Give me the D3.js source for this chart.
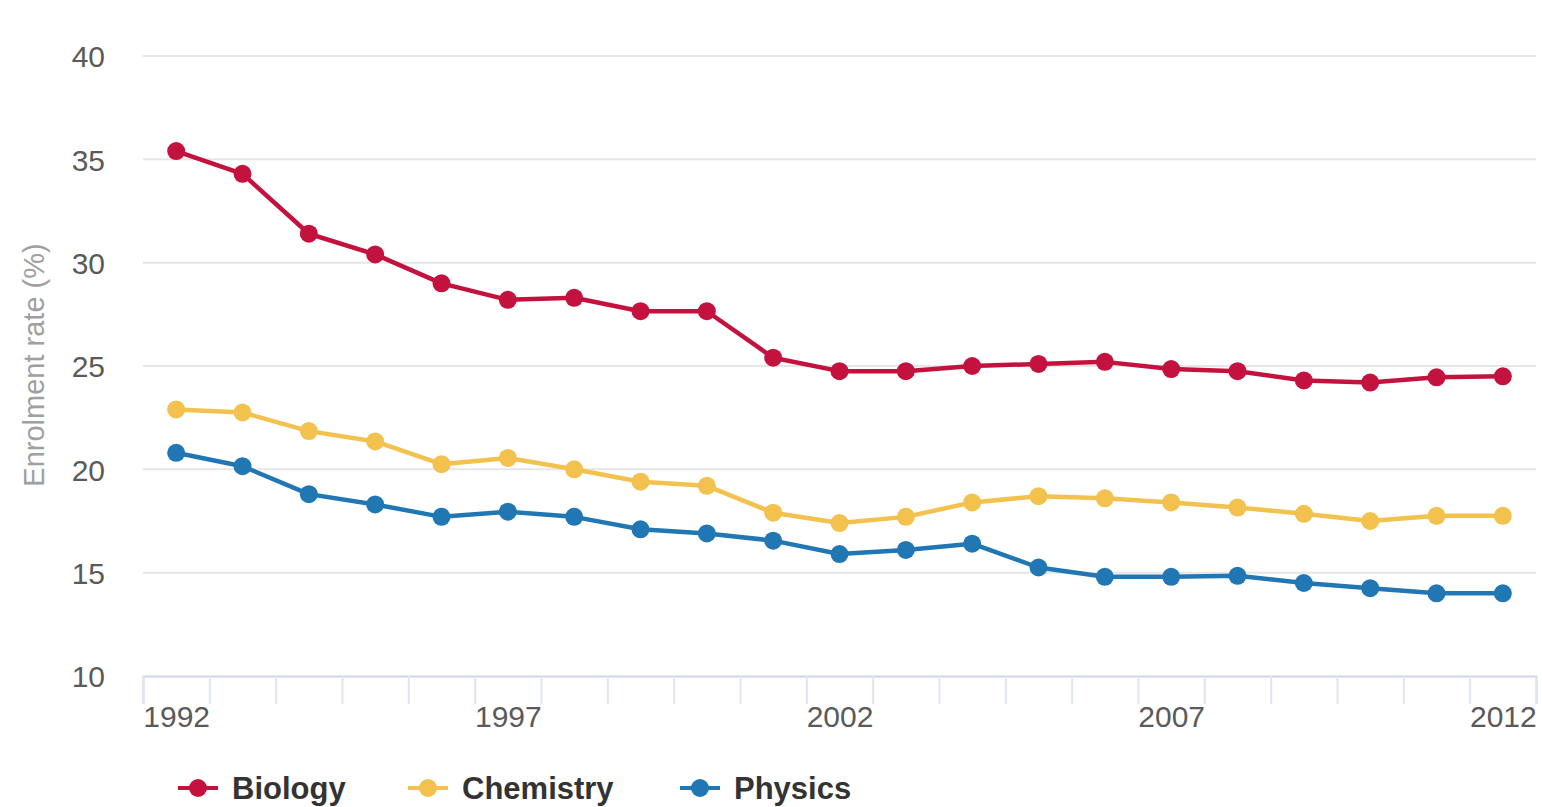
<html>
<head>
<script src="https://d3js.org/d3.v7.min.js"></script>
<title>Enrolment rate</title>
<style>
  body { margin: 0; background: #fff; }
  text { font-family: "Liberation Sans", Arial, sans-serif; }
</style>
</head>
<body>
<div class="viz"></div>
<script type="text/javascript">
var years = d3.range(1992, 2013);
var yearLabels = [1992, 1997, 2002, 2007, 2012];
var yTicks = [10, 15, 20, 25, 30, 35, 40];
var seriesNames = ["Biology", "Chemistry", "Physics"];
var seriesColors = ["#c4123f", "#f2c14e", "#2077b4"];

var biology = [35.4, 34.3, 31.4, 30.4, 29.0, 28.2, 28.3, 27.65, 27.65, 25.4, 24.75,
               24.75, 25.0, 25.1, 25.2, 24.85, 24.75, 24.3, 24.2, 24.45, 24.5];
var chemistry = [22.9, 22.75, 21.85, 21.35, 20.25, 20.55, 20.0, 19.4, 19.2, 17.9, 17.4,
                 17.7, 18.4, 18.7, 18.6, 18.4, 18.15, 17.85, 17.5, 17.75, 17.75];
var physics = [20.8, 20.15, 18.8, 18.3, 17.7, 17.95, 17.7, 17.1, 16.9, 16.55, 15.9,
               16.1, 16.4, 15.25, 14.8, 14.8, 14.85, 14.5, 14.25, 14.0, 14.0];

var seriesValues = [biology, chemistry, physics];

var vizWidth = 1542;
var vizHeight = 807;

var xScale = d3.scaleLinear()
        .domain([1991.5, 2012.5])
        .range([143, 1536]);

var yScale = d3.scaleLinear()
        .domain([10, 40])
        .range([676, 56]);

var svg = d3.select("div")
            .append("svg")
            .attr("width", vizWidth)
            .attr("height", vizHeight);

// horizontal grid lines
svg.append("g")
    .selectAll("line")
    .data(yTicks.slice(1))
    .enter()
    .append("line")
    .attr("x1", 143)
    .attr("x2", 1536)
    .attr("y1", function(d){ return yScale(d); })
    .attr("y2", function(d){ return yScale(d); })
    .attr("stroke", "#e6e6e6")
    .attr("stroke-width", 2);

// y axis labels
var yAxis = d3.axisLeft(yScale)
        .tickValues(yTicks)
        .tickSize(0)
        .tickPadding(38);
var yg = svg.append("g")
        .attr("transform", "translate(143,0)")
        .call(yAxis);
yg.select(".domain").remove();
yg.selectAll("text")
    .attr("font-size", 30)
    .attr("fill", "#5a5a5a")
    .attr("font-family", "Liberation Sans, Arial, sans-serif")
    .attr("dy", "0.36em");

// x axis line and tick marks between categories
var tickMarks = d3.axisBottom(xScale)
        .tickValues(d3.range(1991.5, 2013, 1))
        .tickSize(28)
        .tickFormat("");
var xg = svg.append("g")
        .attr("transform", "translate(0," + yScale(10) + ")")
        .call(tickMarks);
xg.select(".domain").attr("stroke", "#ccd6eb").attr("stroke-width", 2);
xg.selectAll(".tick line").attr("stroke", "#e0e6f0").attr("stroke-width", 2);

// x axis labels
var xLabels = d3.axisBottom(xScale)
        .tickValues(yearLabels)
        .tickSize(0)
        .tickPadding(30)
        .tickFormat(d3.format("d"));
var xl = svg.append("g")
        .attr("transform", "translate(0," + yScale(10) + ")")
        .call(xLabels);
xl.select(".domain").remove();
xl.selectAll("text")
    .attr("font-size", 30)
    .attr("fill", "#5a5a5a")
    .attr("font-family", "Liberation Sans, Arial, sans-serif");

// y axis title
svg.append("text")
    .attr("transform", "translate(44,365) rotate(-90)")
    .attr("text-anchor", "middle")
    .attr("font-size", 29)
    .attr("fill", "#a0a0a0")
    .text("Enrolment rate (%)");

// lines
var line = d3.line()
        .x(function(d, i){ return xScale(years[i]); })
        .y(function(d){ return yScale(d); });

var series = svg.selectAll("g.series")
        .data(seriesValues)
        .enter()
        .append("g")
        .attr("class", "series");

series.append("path")
    .attr("d", function(d){ return line(d); })
    .attr("fill", "none")
    .attr("stroke", function(d, i){ return seriesColors[i]; })
    .attr("stroke-width", 4.5)
    .attr("stroke-linejoin", "round");

series.each(function(d, i){
    d3.select(this).selectAll("circle")
        .data(d)
        .enter()
        .append("circle")
        .attr("cx", function(v, j){ return xScale(years[j]); })
        .attr("cy", function(v){ return yScale(v); })
        .attr("r", 9)
        .attr("fill", seriesColors[i]);
});

// legend
var legendX = [178, 408, 680];
var legend = svg.selectAll("g.legend")
        .data(seriesNames)
        .enter()
        .append("g")
        .attr("class", "legend")
        .attr("transform", function(d, i){ return "translate(" + legendX[i] + ",788)"; });

legend.append("line")
    .attr("x1", 0)
    .attr("x2", 40)
    .attr("stroke", function(d, i){ return seriesColors[i]; })
    .attr("stroke-width", 4);

legend.append("circle")
    .attr("cx", 20)
    .attr("r", 9)
    .attr("fill", function(d, i){ return seriesColors[i]; });

legend.append("text")
    .attr("x", 54)
    .attr("dy", "0.36em")
    .attr("font-size", 31)
    .attr("font-weight", "bold")
    .attr("fill", "#333")
    .text(function(d){ return d; });
</script>
</body>
</html>
